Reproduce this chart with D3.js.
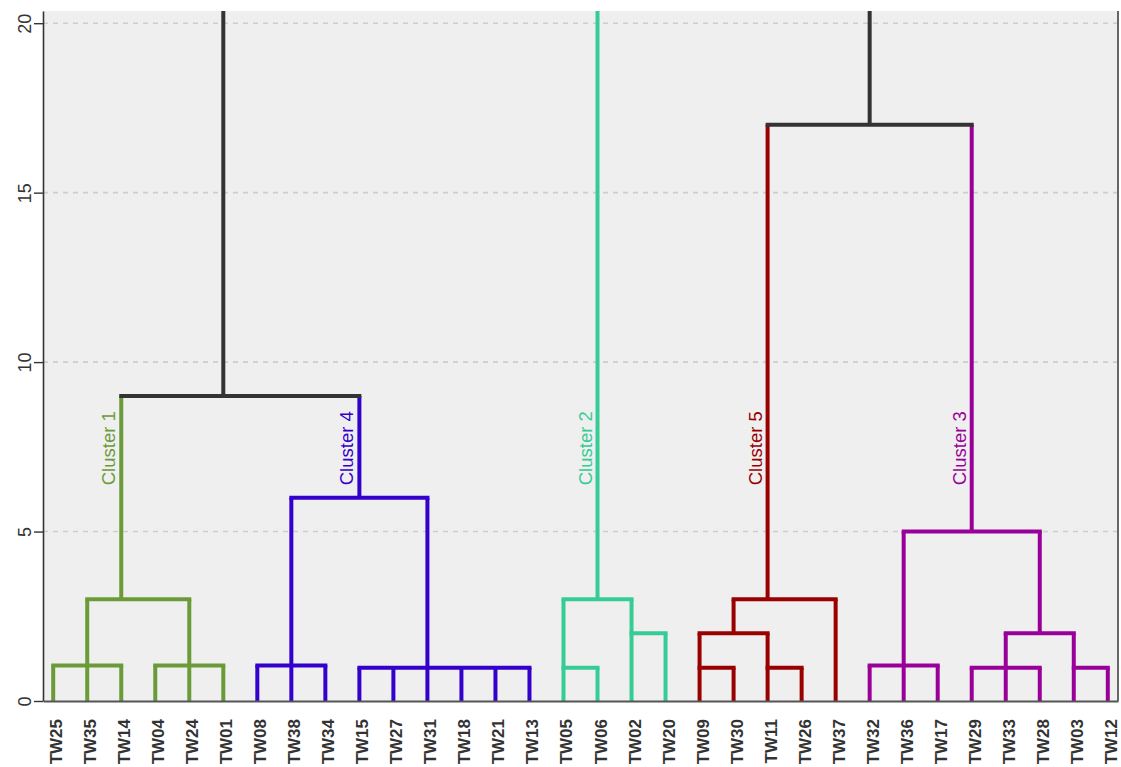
<!DOCTYPE html>
<html>
<head>
<meta charset="utf-8">
<script src="https://cdn.jsdelivr.net/npm/d3@7"></script>
<style>
  html, body { margin: 0; padding: 0; background: #ffffff; }
  svg { display: block; font-family: "Liberation Sans", Arial, sans-serif; }
</style>
</head>
<body>
<svg id="chart" width="1121" height="767"></svg>
<script>
// Leaf order along the x axis
const leafOrder = [
  "TW25","TW35","TW14","TW04","TW24","TW01",
  "TW08","TW38","TW34","TW15","TW27","TW31","TW18","TW21","TW13",
  "TW05","TW06","TW02","TW20",
  "TW09","TW30","TW11","TW26","TW37",
  "TW32","TW36","TW17","TW29","TW33","TW28","TW03","TW12"
];

// Merge heights, member lists, and the leaf above which each merged node's stem rises
const mergeIds      = ["c1a","c1b","c1","c4a","c4b","c4","left",
                       "c2a","c2b","c2",
                       "c5a","c5b","c5c","c5",
                       "c3a","c3b","c3c","c3d","c3","right","root"];
const mergeHeights  = [1.05, 1.05, 3.0, 1.05, 0.98, 6.0, 9.0,
                       0.98, 2.0, 3.0,
                       0.98, 0.98, 2.0, 3.0,
                       1.05, 0.98, 0.98, 2.0, 5.0, 17.0, 24.0];
const mergeChildren = [
  ["TW25","TW35","TW14"], ["TW04","TW24","TW01"], ["c1a","c1b"],
  ["TW08","TW38","TW34"], ["TW15","TW27","TW31","TW18","TW21","TW13"], ["c4a","c4b"],
  ["c1","c4"],
  ["TW05","TW06"], ["TW02","TW20"], ["c2a","c2b"],
  ["TW09","TW30"], ["TW11","TW26"], ["c5a","c5b"], ["c5c","TW37"],
  ["TW32","TW36","TW17"], ["TW29","TW33","TW28"], ["TW03","TW12"], ["c3b","c3c"], ["c3a","c3d"],
  ["c5","c3"],
  ["left","c2","right"]
];
const mergeStems    = ["TW35","TW24","TW14","TW38","TW31","TW15","TW01",
                       "TW05","TW02","TW06",
                       "TW09","TW11","TW30","TW11",
                       "TW36","TW33","TW03","TW28","TW29","TW32","TW06"];

// Cluster roots, their labels and colours
const clusterRoots  = ["c1","c4","c2","c5","c3"];
const clusterNames  = ["Cluster 1","Cluster 4","Cluster 2","Cluster 5","Cluster 3"];
const clusterColors = ["#6b9b38","#3300cc","#35cc96","#990000","#990099"];
const trunkColor = "#333333";
const labelHeight = 8.55;

const yTicks = [0, 5, 10, 15, 20];
const yMax = 20.36;

const W = 1121, H = 767;
const margin = { top: 11, right: 3, bottom: 66, left: 43 };
const iw = W - margin.left - margin.right;
const ih = H - margin.top - margin.bottom;

const svg = d3.select("#chart");
const g = svg.append("g").attr("transform", `translate(${margin.left},${margin.top})`);

const x = d3.scalePoint().domain(leafOrder).range([0, iw]).padding(0.3);
const y = d3.scaleLinear().domain([0, yMax]).range([ih, 0]);

// Build the node table
const nodes = new Map();
leafOrder.forEach(l => nodes.set(l, { id: l, height: 0, children: [], stem: l }));
mergeIds.forEach((id, i) => nodes.set(id, {
  id, height: mergeHeights[i], children: mergeChildren[i], stem: mergeStems[i]
}));
nodes.forEach(n => n.children.forEach(c => { nodes.get(c).parent = n.id; }));

// Colour: propagate each cluster colour through its subtree
nodes.forEach(n => { n.color = trunkColor; });
function paint(id, color) {
  const n = nodes.get(id);
  n.color = color;
  n.children.forEach(c => paint(c, color));
}
clusterRoots.forEach((r, i) => paint(r, clusterColors[i]));

// Panel
g.append("rect").attr("x", 0).attr("y", 0).attr("width", iw).attr("height", ih)
  .attr("fill", "#efefef");

g.append("g").attr("class", "grid")
  .selectAll("line").data(yTicks.filter(t => t > 0)).join("line")
  .attr("x1", 0).attr("x2", iw)
  .attr("y1", d => y(d)).attr("y2", d => y(d))
  .attr("stroke", "#cdcdcd").attr("stroke-width", 1.6)
  .attr("stroke-dasharray", "5,5");

svg.append("defs").append("clipPath").attr("id", "plotClip")
  .append("rect").attr("x", 0).attr("y", 0).attr("width", iw).attr("height", ih);

const links = g.append("g").attr("clip-path", "url(#plotClip)");

// Vertical stems: from each node up to its parent's height
const stemNodes = Array.from(nodes.values()).filter(n => n.parent);
links.selectAll("line.stem").data(stemNodes).join("line")
  .attr("class", "stem")
  .attr("x1", d => x(d.stem)).attr("x2", d => x(d.stem))
  .attr("y1", d => y(d.height)).attr("y2", d => y(nodes.get(d.parent).height))
  .attr("stroke", d => d.color).attr("stroke-width", 4);

// Horizontal bars joining the children's stems
const joinNodes = Array.from(nodes.values()).filter(n => n.children.length);
links.selectAll("line.bar").data(joinNodes).join("line")
  .attr("class", "bar")
  .attr("x1", d => d3.min(d.children, c => x(nodes.get(c).stem)))
  .attr("x2", d => d3.max(d.children, c => x(nodes.get(c).stem)))
  .attr("y1", d => y(d.height)).attr("y2", d => y(d.height))
  .attr("stroke", d => d.color).attr("stroke-width", 4)
  .attr("stroke-linecap", "square");

// Cluster labels beside their stems
g.append("g").selectAll("text").data(clusterRoots).join("text")
  .attr("transform", (d, i) => `translate(${x(nodes.get(d).stem) - 6},${y(labelHeight)}) rotate(-90)`)
  .attr("text-anchor", "end")
  .attr("font-size", 18.5)
  .attr("fill", (d, i) => clusterColors[i])
  .text((d, i) => clusterNames[i]);

// Right border
g.append("line").attr("x1", iw).attr("x2", iw).attr("y1", 0).attr("y2", ih)
  .attr("stroke", "#666").attr("stroke-width", 2);

// Y axis
const yAxis = g.append("g").call(d3.axisLeft(y).tickValues(yTicks).tickFormat(d3.format("d")).tickSize(9).tickSizeOuter(0));
yAxis.select(".domain").attr("stroke", "#333").attr("stroke-width", 1.6);
yAxis.selectAll(".tick line").attr("stroke", "#333").attr("stroke-width", 1.4);
yAxis.selectAll(".tick text")
  .attr("x", 0).attr("y", 0).attr("dy", 0)
  .attr("text-anchor", "middle")
  .attr("transform", "translate(-12,0) rotate(-90)")
  .attr("font-size", 18).attr("fill", "#333")
  .attr("font-family", "Liberation Sans, Arial, sans-serif");

// X axis
const xAxis = g.append("g").attr("transform", `translate(0,${ih})`)
  .call(d3.axisBottom(x).tickSize(0).tickSizeOuter(0));
xAxis.select(".domain").attr("stroke", "#555").attr("stroke-width", 1.8);
xAxis.selectAll(".tick text")
  .attr("x", -18).attr("y", 0).attr("dy", "0.5em")
  .attr("text-anchor", "end")
  .attr("transform", "rotate(-90)")
  .attr("font-size", 17).attr("font-weight", "bold").attr("fill", "#333")
  .attr("font-family", "Liberation Sans, Arial, sans-serif");
</script>
</body>
</html>
